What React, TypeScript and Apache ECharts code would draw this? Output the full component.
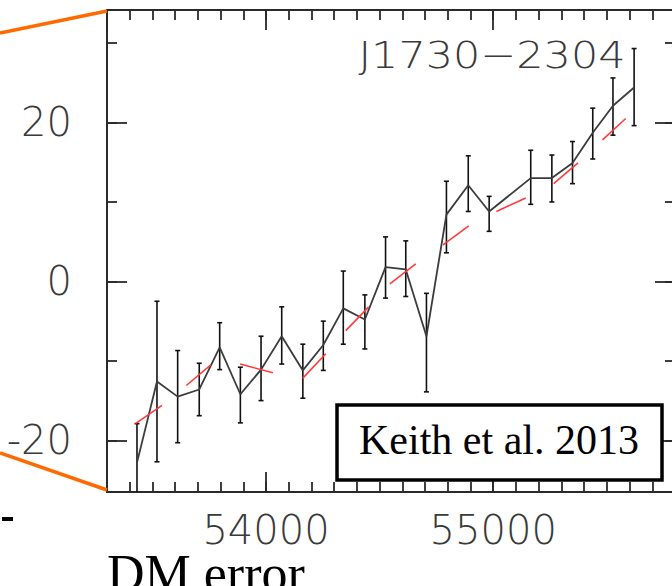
import { useEffect, useRef } from "react";
import * as echarts from "echarts";

// MJD of each DM measurement
const mjd = [53432, 53520, 53611, 53706, 53796, 53887, 53978, 54069, 54162, 54252, 54340, 54435, 54526, 54615, 54706, 54794, 54890, 54982, 55165, 55258, 55349, 55438, 55527, 55620];
// DM variation (measured points, joined by the black line)
const dmValue = [-22.8, -12.6, -14.5, -13.6, -8.3, -14.2, -11.1, -6.9, -11.2, -8.0, -3.4, -4.8, 1.8, 1.5, -6.9, 8.4, 12.1, 8.8, 13.0, 13.0, 14.9, 18.7, 22.1, 24.4];
// error-bar ends
const dmHigh = [-17.9, -2.5, -8.7, -10.3, -5.2, -10.8, -6.9, -3.2, -7.9, -5.0, 1.3, -1.7, 5.6, 5.1, -1.5, 12.6, 15.8, 10.7, 16.5, 15.9, 17.6, 21.8, 25.6, 29.3];
const dmLow = [-28.0, -22.7, -20.3, -16.9, -11.1, -17.8, -15.0, -10.4, -14.7, -11.2, -7.9, -8.5, -2.1, -1.9, -13.9, 3.6, 8.8, 6.3, 9.7, 10.0, 12.3, 15.4, 18.4, 19.6];
// red model segments: [startMjd, startDm, endMjd, endDm]
const modelSegments = [
  [53425, -17.9, 53542, -15.6],
  [53649, -13.1, 53757, -10.5],
  [53886, -10.4, 54030, -11.5],
  [54161, -12.2, 54263, -9.1],
  [54351, -6.2, 54452, -3.2],
  [54545, -0.3, 54659, 2.2],
  [54779, 4.6, 54892, 7.0],
  [55014, 8.8, 55143, 10.5],
  [55266, 12.3, 55373, 14.9],
  [55481, 17.8, 55583, 20.5],
];
const xMin = 53300;
const xMax = 55800;
const yMin = -26.5;
const yMax = 34.15;
const title = "J1730\u22122304";
const citation = "Keith et al. 2013";
const caption = "DM error";

const axisColor = "#2a2a2a";
const labelFont = "DejaVu Sans";

function xAxisDef(position: string, major: boolean, showLabel: boolean) {
  return {
    type: "value",
    gridIndex: 0,
    position,
    min: xMin,
    max: xMax,
    ...(major ? { splitNumber: 3, minInterval: 1000, maxInterval: 1000 } : { interval: 100 }),
    axisLine: { show: true, onZero: false, lineStyle: { color: axisColor, width: 1.8 } },
    axisTick: { show: true, inside: true, length: major ? 20 : 10, lineStyle: { color: axisColor, width: 1.8 } },
    axisLabel: {
      show: showLabel,
      showMinLabel: false,
      showMaxLabel: false,
      margin: 18,
      color: "#3a3a3a",
      fontFamily: labelFont,
      fontWeight: 200,
      fontSize: 40,
      formatter: (v: number) => String(v),
    },
    splitLine: { show: false },
  };
}

function yAxisDef(position: string, major: boolean, showLabel: boolean) {
  return {
    type: "value",
    gridIndex: 0,
    position,
    min: yMin,
    max: yMax,
    ...(major ? { splitNumber: 3, minInterval: 20, maxInterval: 20 } : { splitNumber: 6, minInterval: 10, maxInterval: 10 }),
    axisLine: { show: true, onZero: false, lineStyle: { color: axisColor, width: 1.8 } },
    axisTick: { show: true, inside: true, length: major ? 20 : 10, lineStyle: { color: axisColor, width: 1.8 } },
    axisLabel: {
      show: showLabel,
      showMinLabel: false,
      showMaxLabel: false,
      margin: 35,
      color: "#3a3a3a",
      fontFamily: labelFont,
      fontWeight: 200,
      fontSize: 40,
      formatter: (v: number) => String(v),
    },
    splitLine: { show: false },
  };
}

export default function App() {
  const ref = useRef<HTMLDivElement>(null);
  useEffect(() => {
    if (!ref.current) return;
    const chart = echarts.init(ref.current, undefined, { renderer: "svg" });
    const option: any = {
      animation: false,
      backgroundColor: "#ffffff",
      grid: { left: 107, top: 10, width: 568, height: 482, outerBoundsMode: "none", containLabel: false },
      xAxis: [
        xAxisDef("bottom", true, true),
        xAxisDef("bottom", false, false),
        xAxisDef("top", true, false),
        xAxisDef("top", false, false),
      ],
      yAxis: [
        yAxisDef("left", true, true),
        yAxisDef("left", false, false),
        yAxisDef("right", true, false),
        yAxisDef("right", false, false),
      ],
      series: [
        {
          type: "custom",
          xAxisIndex: 0,
          yAxisIndex: 0,
          clip: true,
          encode: { x: 0, y: [1, 2] },
          data: mjd.map((x, i) => [x, dmLow[i], dmHigh[i]]),
          renderItem: (_p: any, api: any) => {
            const x = api.value(0);
            const lo = api.coord([x, api.value(1)]);
            const hi = api.coord([x, api.value(2)]);
            const c = 2.5;
            const st = { stroke: "#111111", lineWidth: 1.6 };
            return {
              type: "group",
              children: [
                { type: "line", shape: { x1: lo[0], y1: lo[1], x2: hi[0], y2: hi[1] }, style: st },
                { type: "line", shape: { x1: lo[0] - c, y1: lo[1], x2: lo[0] + c, y2: lo[1] }, style: st },
                { type: "line", shape: { x1: hi[0] - c, y1: hi[1], x2: hi[0] + c, y2: hi[1] }, style: st },
              ],
            };
          },
        },
        {
          type: "line",
          xAxisIndex: 0,
          yAxisIndex: 0,
          showSymbol: false,
          symbol: "none",
          lineStyle: { color: "#3c3c3c", width: 1.8 },
          data: mjd.map((x, i) => [x, dmValue[i]]),
        },
        ...modelSegments.map((s) => ({
          type: "line",
          xAxisIndex: 0,
          yAxisIndex: 0,
          symbol: "none",
          lineStyle: { color: "#ff3b3b", width: 1.6 },
          data: [
            [s[0], s[1]],
            [s[2], s[3]],
          ],
        })),
      ],
      graphic: [
        { type: "line", shape: { x1: 0, y1: 33, x2: 107, y2: 11 }, style: { stroke: "#FF6A00", lineWidth: 3.5 }, z: 100 },
        { type: "line", shape: { x1: 0, y1: 453, x2: 107, y2: 490 }, style: { stroke: "#FF6A00", lineWidth: 3.5 }, z: 100 },
        {
          type: "text",
          x: 492,
          y: 55,
          scaleX: 1.13,
          style: { text: title, x: 0, y: 0, align: "center", verticalAlign: "middle", fontFamily: labelFont, fontWeight: 200, fontSize: 38, fill: "#3a3a3a" },
          z: 100,
        },
        { type: "rect", shape: { x: 337, y: 405, width: 325, height: 75 }, style: { fill: "#ffffff", stroke: "#000000", lineWidth: 3.5 }, z: 100 },
        {
          type: "text",
          x: 499,
          y: 440,
          style: { text: citation, x: 0, y: 0, align: "center", verticalAlign: "middle", fontFamily: "Liberation Serif", fontSize: 42, fill: "#000000" },
          z: 101,
        },
        {
          type: "text",
          x: 107,
          y: 573,
          style: { text: caption, x: 0, y: 0, align: "left", verticalAlign: "middle", fontFamily: "Liberation Serif", fontSize: 52, fill: "#000000" },
          z: 101,
        },
        { type: "rect", shape: { x: 2, y: 517, width: 11, height: 4 }, style: { fill: "#000000" }, z: 101 },
      ],
    };
    chart.setOption(option);
    return () => chart.dispose();
  }, []);
  return <div ref={ref} style={{ position: "fixed", left: 0, top: 0, width: 672, height: 586 }} />;
}
